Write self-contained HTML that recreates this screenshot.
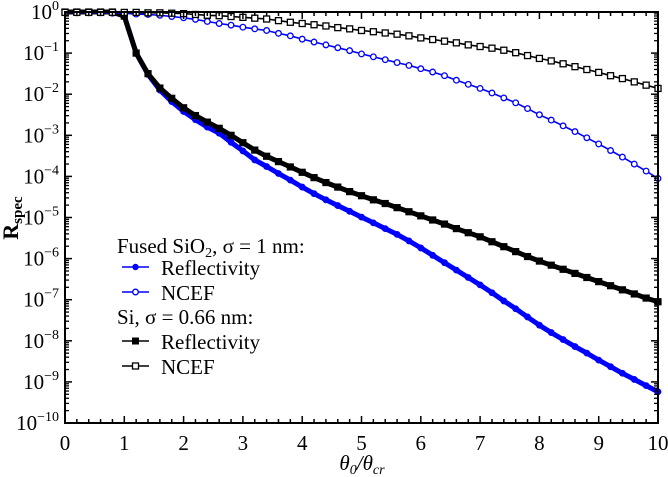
<!DOCTYPE html>
<html><head><meta charset="utf-8"><style>
body{margin:0;background:#fff;}
svg{display:block;font-family:"Liberation Serif",serif;}
</style></head><body>
<svg id="chart" width="668" height="477" viewBox="0 0 668 477">
<g id="plot"></g>
<g id="axes"></g>
<text x="18" y="218" font-size="22" font-weight="bold" text-anchor="middle" transform="rotate(-90 18 218)">R<tspan font-size="15" dy="4">spec</tspan></text>
<text x="362" y="470" font-size="21" font-style="italic" text-anchor="middle">θ<tspan font-size="14" dy="4">0</tspan><tspan dy="-4">/θ</tspan><tspan font-size="14" dy="4">cr</tspan></text>
<g id="legend">
<text x="117" y="253" font-size="21">Fused SiO<tspan font-size="14" dy="4">2</tspan><tspan dy="-4">, σ = 1 nm:</tspan></text>
<g><line x1="122" y1="267" x2="149" y2="267" stroke="#0000ff" stroke-width="1.5"/><circle cx="135.5" cy="267" r="3.2" fill="#0000ff"/><text x="161" y="275" font-size="21">Reflectivity</text></g>
<g><line x1="122" y1="292" x2="149" y2="292" stroke="#0000ff" stroke-width="1.5"/><circle cx="135.5" cy="292" r="2.8" fill="#fff" stroke="#0000ff" stroke-width="1.3"/><text x="161" y="300" font-size="21">NCEF</text></g>
<text x="117" y="324" font-size="21">Si, σ = 0.66 nm:</text>
<g><line x1="122" y1="341" x2="149" y2="341" stroke="#000" stroke-width="1.5"/><rect x="132" y="337.5" width="7" height="7" fill="#000"/><text x="161" y="349" font-size="21">Reflectivity</text></g>
<g><line x1="122" y1="366" x2="149" y2="366" stroke="#000" stroke-width="1.5"/><rect x="132.5" y="363" width="6" height="6" fill="#fff" stroke="#000" stroke-width="1.3"/><text x="161" y="374" font-size="21">NCEF</text></g>
</g>
</svg>
<script>
const xValues = [0,0.2,0.4,0.6,0.8,1.0,1.2,1.4,1.6,1.8,2.0,2.2,2.4,2.6,2.8,3.0,3.2,3.4,3.6,3.8,4.0,4.2,4.4,4.6,4.8,5.0,5.2,5.4,5.6,5.8,6.0,6.2,6.4,6.6,6.8,7.0,7.2,7.4,7.6,7.8,8.0,8.2,8.4,8.6,8.8,9.0,9.2,9.4,9.6,9.8,10];
const sio2ReflLog = [0,0,0,0,0,-0.1,-1.0,-1.52,-1.9,-2.18,-2.42,-2.62,-2.8,-2.95,-3.17,-3.38,-3.6,-3.76,-3.93,-4.09,-4.26,-4.42,-4.57,-4.71,-4.85,-4.99,-5.13,-5.27,-5.41,-5.57,-5.74,-5.92,-6.1,-6.28,-6.46,-6.64,-6.83,-7.03,-7.22,-7.42,-7.62,-7.8,-7.97,-8.14,-8.3,-8.47,-8.63,-8.79,-8.94,-9.09,-9.24];
const sio2NcefLog = [-0.02,-0.02,-0.02,-0.02,-0.03,-0.03,-0.05,-0.06,-0.08,-0.11,-0.14,-0.18,-0.23,-0.28,-0.32,-0.37,-0.41,-0.45,-0.52,-0.58,-0.66,-0.73,-0.8,-0.87,-0.94,-1.02,-1.09,-1.16,-1.23,-1.3,-1.38,-1.46,-1.55,-1.66,-1.76,-1.86,-1.97,-2.09,-2.21,-2.35,-2.5,-2.63,-2.77,-2.91,-3.06,-3.21,-3.37,-3.53,-3.7,-3.87,-4.05];
const siReflLog = [0,0,0,0,0,-0.1,-1.0,-1.5,-1.85,-2.1,-2.33,-2.52,-2.68,-2.83,-3.0,-3.18,-3.36,-3.51,-3.64,-3.77,-3.9,-4.03,-4.15,-4.26,-4.37,-4.47,-4.57,-4.66,-4.76,-4.86,-4.96,-5.06,-5.16,-5.27,-5.37,-5.47,-5.59,-5.71,-5.83,-5.95,-6.06,-6.16,-6.26,-6.36,-6.46,-6.56,-6.66,-6.76,-6.86,-6.96,-7.05];
const siNcefLog = [-0.01,-0.01,-0.01,-0.01,-0.01,-0.01,-0.01,-0.02,-0.02,-0.03,-0.04,-0.06,-0.08,-0.09,-0.11,-0.13,-0.15,-0.17,-0.21,-0.25,-0.28,-0.31,-0.34,-0.38,-0.41,-0.45,-0.48,-0.51,-0.54,-0.58,-0.63,-0.67,-0.71,-0.75,-0.8,-0.84,-0.88,-0.93,-0.99,-1.06,-1.13,-1.19,-1.26,-1.33,-1.4,-1.47,-1.55,-1.62,-1.7,-1.78,-1.86];
const xTicks = [0,1,2,3,4,5,6,7,8,9,10];
const yDecades = [0,-1,-2,-3,-4,-5,-6,-7,-8,-9,-10];

const X0=65, X1=658, Y0=12, Y1=423;
const sx = v => X0 + (v-0)/(10-0)*(X1-X0);
const sy = lg => Y0 + (0-lg)/(0-(-10))*(Y1-Y0);
const NS="http://www.w3.org/2000/svg";
const plot=document.getElementById('plot'), axes=document.getElementById('axes');
function mk(tag, attrs, parent){const e=document.createElementNS(NS,tag);for(const k in attrs)e.setAttribute(k,attrs[k]);parent.appendChild(e);return e;}

function series(ys,color,kind,name){
  const g=mk('g',{},plot);
  
  
  const pts=xValues.map((x,i)=>sx(x).toFixed(1)+','+sy(ys[i]).toFixed(1)).join(' ');
  const filled = kind==='fc'||kind==='fs';
  mk('polyline',{points:pts,fill:'none',stroke:color,'stroke-width':filled?5:1.6,'stroke-linejoin':'round'},g);
  xValues.forEach((x,i)=>{
    const cx=sx(x), cy=sy(ys[i]); let m;
    if(kind==='fc') m=mk('circle',{cx,cy,r:3.4,fill:color},g);
    else if(kind==='oc') m=mk('circle',{cx,cy,r:2.8,fill:'#fff',stroke:color,'stroke-width':1.3},g);
    else if(kind==='fs') m=mk('rect',{x:cx-3.6,y:cy-3.6,width:7.2,height:7.2,fill:color},g);
    else m=mk('rect',{x:cx-3,y:cy-3,width:6,height:6,fill:'#fff',stroke:color,'stroke-width':1.3},g);
    
    
  });
}
series(sio2ReflLog,'#0000ff','fc','series-sio2-reflectivity');
series(siReflLog,'#000','fs','series-si-reflectivity');
series(sio2NcefLog,'#0000ff','oc','series-sio2-ncef');
series(siNcefLog,'#000','os','series-si-ncef');

const fr=mk('rect',{x:X0,y:Y0,width:X1-X0,height:Y1-Y0,fill:'none',stroke:'#000','stroke-width':2},axes);


for(let v=0; v<=10.001; v+=0.2){
  const major=Math.abs(v-Math.round(v))<1e-6, L=major?7:4, x=sx(v);
  mk('line',{x1:x,y1:Y1,x2:x,y2:Y1-L,stroke:'#000','stroke-width':1.5},axes);
  mk('line',{x1:x,y1:Y0,x2:x,y2:Y0+L,stroke:'#000','stroke-width':1.5},axes);
}
xTicks.forEach(v=>{
  const t=mk('text',{x:sx(v),y:450,'font-size':21,'text-anchor':'middle'},axes);
  t.textContent=v;
  
  
});
yDecades.forEach(d=>{
  const y=sy(d);
  mk('line',{x1:X0,y1:y,x2:X0+7,y2:y,stroke:'#000','stroke-width':1.5},axes);
  mk('line',{x1:X1,y1:y,x2:X1-7,y2:y,stroke:'#000','stroke-width':1.5},axes);
  if(d>-10){for(let m=2;m<=9;m++){const yy=sy(d-1+Math.log10(m));
    mk('line',{x1:X0,y1:yy,x2:X0+4,y2:yy,stroke:'#000','stroke-width':1.3},axes);
    mk('line',{x1:X1,y1:yy,x2:X1-4,y2:yy,stroke:'#000','stroke-width':1.3},axes);}}
  const t=mk('text',{x:59,y:y+7,'font-size':21,'text-anchor':'end'},axes);
  
  
  const s1=document.createElementNS(NS,'tspan'); s1.textContent='10'; t.appendChild(s1);
  const s2=document.createElementNS(NS,'tspan'); s2.setAttribute('font-size','14'); s2.setAttribute('dy','-9');
  s2.textContent = d===0 ? '0' : '\u2212'+(-d); t.appendChild(s2);
});
</script>
</body></html>
